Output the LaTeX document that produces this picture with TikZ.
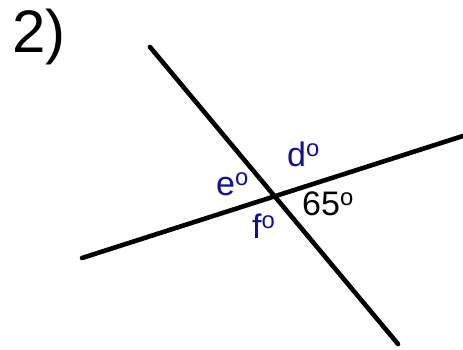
\documentclass[tikz,border=0pt]{standalone}
\usepackage{fontspec}
\setmainfont{Liberation Sans}
\usepackage{xcolor}
\usepackage{tikz}
\definecolor{tnavy}{HTML}{10109A}

\begin{document}
\begin{tikzpicture}[x=1pt, y=-1pt,
  ln/.style={line width=4.6pt, line cap=round},
  lbl/.style={anchor=base west, inner sep=0pt, font=\fontsize{34}{40}\selectfont},
  ang/.style={lbl, text=tnavy}]
\useasboundingbox (0,0) rectangle (463,349);
\node[anchor=base west, inner sep=0pt, font=\fontsize{60}{66}\selectfont] (num) at (12,52) {2)};
% the two lines
\coordinate (p1) at (150,47);
\coordinate (p2) at (398,344);
\coordinate (q1) at (82,258);
\coordinate (q2) at (466,135);
\draw[ln] (p1) -- (p2);
\draw[ln] (q1) -- (q2);
% angle labels
\node[ang] (d) at (287,166) {d\textsuperscript{o}};
\node[ang] (e) at (216,195) {e\textsuperscript{o}};
\node[ang] (f) at (252,238) {f\textsuperscript{o}};
\node[lbl] (given) at (302,215) {65\textsuperscript{o}};
\end{tikzpicture}
\end{document}
